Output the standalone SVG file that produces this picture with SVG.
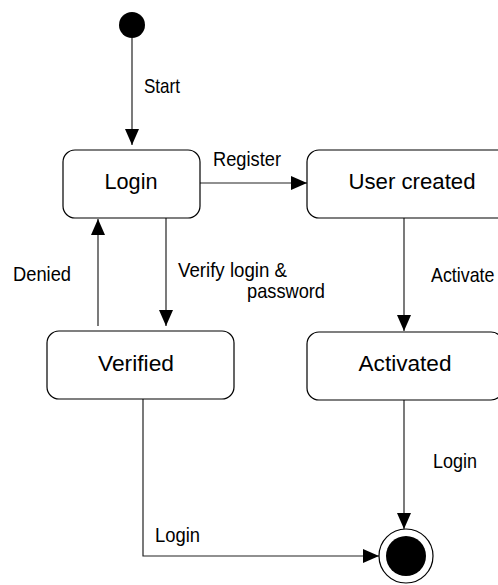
<svg xmlns="http://www.w3.org/2000/svg" width="498" height="585" viewBox="0 0 498 585">
  <style>
    .state { fill: #ffffff; stroke: #000000; stroke-width: 1.2; }
    .wire { fill: none; stroke: #222222; stroke-width: 1.2; }
    .name { font-family: "Liberation Sans", Arial, sans-serif; font-size: 22px; fill: #000000; text-anchor: middle; }
    .label { font-family: "Liberation Sans", Arial, sans-serif; font-size: 21px; fill: #000000; }
  </style>
  <defs>
    <marker id="arrow" markerUnits="userSpaceOnUse" markerWidth="16" markerHeight="14" refX="16" refY="7" orient="auto">
      <path d="M0,0 L16,7 L0,14 Z" fill="#000000"/>
    </marker>
  </defs>
  <rect width="498" height="585" fill="#ffffff"/>

  <!-- transitions -->
  <g id="connectors">
    <line class="wire" x1="132" y1="38" x2="132" y2="145" marker-end="url(#arrow)"/>
    <line class="wire" x1="200" y1="183" x2="307" y2="183" marker-end="url(#arrow)"/>
    <line class="wire" x1="166" y1="218" x2="166" y2="326" marker-end="url(#arrow)"/>
    <line class="wire" x1="98" y1="326" x2="98" y2="219" marker-end="url(#arrow)"/>
    <line class="wire" x1="404" y1="218" x2="404" y2="331" marker-end="url(#arrow)"/>
    <line class="wire" x1="404" y1="400" x2="404" y2="529" marker-end="url(#arrow)"/>
    <polyline class="wire" points="143,399 143,556 379,556" marker-end="url(#arrow)"/>

    <text class="label" x="144" y="93" textLength="36" lengthAdjust="spacingAndGlyphs">Start</text>
    <text class="label" x="213" y="166" textLength="68" lengthAdjust="spacingAndGlyphs">Register</text>
    <text class="label" x="178" y="277" textLength="109" lengthAdjust="spacingAndGlyphs">Verify login &amp;</text>
    <text class="label" x="247" y="298" textLength="78" lengthAdjust="spacingAndGlyphs">password</text>
    <text class="label" x="13" y="281" textLength="58" lengthAdjust="spacingAndGlyphs">Denied</text>
    <text class="label" transform="translate(431,282) scale(0.85,1)">Activate</text>
    <text class="label" x="433" y="468" textLength="44" lengthAdjust="spacingAndGlyphs">Login</text>
    <text class="label" x="155" y="542" textLength="45" lengthAdjust="spacingAndGlyphs">Login</text>
  </g>

  <g id="initial">
    <circle cx="132" cy="25" r="13" fill="#000000"/>
  </g>

  <g id="login">
    <rect class="state" x="63" y="150" width="137" height="68" rx="12" ry="12"/>
    <text class="name" x="131" y="189" textLength="53" lengthAdjust="spacingAndGlyphs">Login</text>
  </g>

  <g id="user-created">
    <rect class="state" x="307" y="150" width="210" height="68" rx="12" ry="12"/>
    <text class="name" x="412" y="189" textLength="127" lengthAdjust="spacingAndGlyphs">User created</text>
  </g>

  <g id="verified">
    <rect class="state" x="47" y="331" width="187" height="68" rx="12" ry="12"/>
    <text class="name" x="136" y="371" textLength="76" lengthAdjust="spacingAndGlyphs">Verified</text>
  </g>

  <g id="activated">
    <rect class="state" x="307" y="332" width="196" height="68" rx="12" ry="12"/>
    <text class="name" x="405" y="371" textLength="93" lengthAdjust="spacingAndGlyphs">Activated</text>
  </g>

  <g id="final">
    <circle cx="406" cy="556" r="27" fill="#ffffff" stroke="#000000" stroke-width="1.2"/>
    <circle cx="406" cy="556" r="20" fill="#000000"/>
  </g>
</svg>
